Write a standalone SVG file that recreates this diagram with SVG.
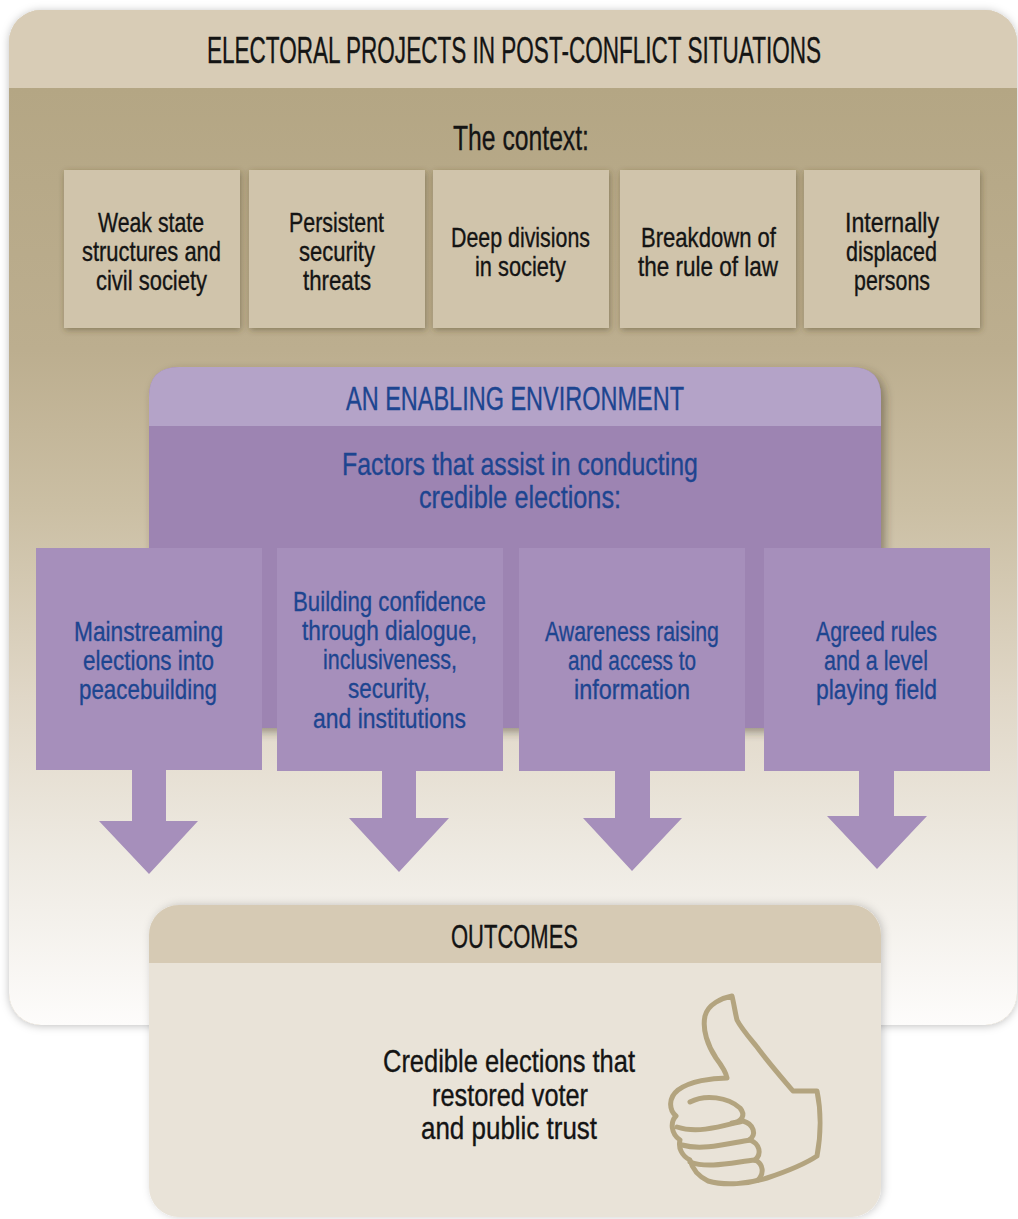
<svg xmlns="http://www.w3.org/2000/svg" width="1018" height="1219" viewBox="0 0 1018 1219">
<defs>
<style>
.t{font-family:"Liberation Sans",Arial,sans-serif;fill:#141414;stroke:#141414;stroke-width:0.35}
.b{font-family:"Liberation Sans",Arial,sans-serif;fill:#1d4590;stroke:#1d4590;stroke-width:0.35}
.ctx{fill:#d0c4ab}
.fac{fill:#a68fbb}
</style>
<linearGradient id="bodyGrad" gradientUnits="userSpaceOnUse" x1="0" y1="88" x2="0" y2="1025">
<stop offset="0" stop-color="#b4a684"/>
<stop offset="0.28" stop-color="#bcae8f"/>
<stop offset="0.45" stop-color="#cbbfa4"/>
<stop offset="0.65" stop-color="#e0d7c7"/>
<stop offset="0.82" stop-color="#eeeae2"/>
<stop offset="1" stop-color="#fdfcfb"/>
</linearGradient>
<clipPath id="panelClip"><rect x="9" y="10" width="1008" height="1015" rx="32" ry="32"/></clipPath>
<clipPath id="envClip"><path d="M149 728 V397 Q149 367 179 367 H851 Q881 367 881 397 V728 Z"/></clipPath>
<clipPath id="outClip"><rect x="149" y="905" width="732" height="312" rx="30" ry="30"/></clipPath>
<filter id="sh" x="-10%" y="-10%" width="120%" height="120%">
<feDropShadow dx="0" dy="1" stdDeviation="4" flood-color="#000" flood-opacity="0.25"/>
</filter>
<filter id="shBox" x="-10%" y="-10%" width="120%" height="120%">
<feDropShadow dx="1" dy="2" stdDeviation="3" flood-color="#4a3f28" flood-opacity="0.45"/>
</filter>
<filter id="shEnv" x="-10%" y="-10%" width="120%" height="125%">
<feDropShadow dx="4" dy="4" stdDeviation="5" flood-color="#3a3020" flood-opacity="0.45"/>
</filter>
<filter id="shOut" x="-10%" y="-10%" width="120%" height="120%">
<feDropShadow dx="2" dy="0" stdDeviation="4" flood-color="#000" flood-opacity="0.2"/>
</filter>
</defs>

<rect width="1018" height="1219" fill="#ffffff"/>

<g id="panel">
<rect x="9" y="10" width="1008" height="1015" rx="32" ry="32" fill="#d8ccb6" filter="url(#sh)"/>
<g clip-path="url(#panelClip)">
<rect x="9" y="10" width="1008" height="78" fill="#d8ccb6"/>
<rect x="9" y="88" width="1008" height="937" fill="url(#bodyGrad)"/>
</g>
<text class="t" transform="translate(207,63) scale(0.64,1)" font-size="36" textLength="959.4" lengthAdjust="spacingAndGlyphs">ELECTORAL PROJECTS IN POST-CONFLICT SITUATIONS</text>
<text class="t" transform="translate(453,150) scale(0.76,1)" font-size="35" textLength="178.9" lengthAdjust="spacingAndGlyphs">The context:</text>
</g>

<g id="ctx1">
<rect class="ctx" x="64" y="170" width="176" height="158" filter="url(#shBox)"/>
<text class="t" transform="translate(98,232) scale(0.76,1)" font-size="27" textLength="139.5" lengthAdjust="spacingAndGlyphs">Weak state</text>
<text class="t" transform="translate(82,261) scale(0.76,1)" font-size="27" textLength="182.9" lengthAdjust="spacingAndGlyphs">structures and</text>
<text class="t" transform="translate(96,290) scale(0.76,1)" font-size="27" textLength="146.1" lengthAdjust="spacingAndGlyphs">civil society</text>
</g>
<g id="ctx2">
<rect class="ctx" x="249" y="170" width="176" height="158" filter="url(#shBox)"/>
<text class="t" transform="translate(289,232) scale(0.76,1)" font-size="27" textLength="125" lengthAdjust="spacingAndGlyphs">Persistent</text>
<text class="t" transform="translate(299,261) scale(0.76,1)" font-size="27" textLength="100" lengthAdjust="spacingAndGlyphs">security</text>
<text class="t" transform="translate(303,290) scale(0.76,1)" font-size="27" textLength="89.5" lengthAdjust="spacingAndGlyphs">threats</text>
</g>
<g id="ctx3">
<rect class="ctx" x="433" y="170" width="176" height="158" filter="url(#shBox)"/>
<text class="t" transform="translate(451,247) scale(0.76,1)" font-size="27" textLength="182.9" lengthAdjust="spacingAndGlyphs">Deep divisions</text>
<text class="t" transform="translate(475,276) scale(0.76,1)" font-size="27" textLength="119.7" lengthAdjust="spacingAndGlyphs">in society</text>
</g>
<g id="ctx4">
<rect class="ctx" x="620" y="170" width="176" height="158" filter="url(#shBox)"/>
<text class="t" transform="translate(641,247) scale(0.76,1)" font-size="27" textLength="177.6" lengthAdjust="spacingAndGlyphs">Breakdown of</text>
<text class="t" transform="translate(638,276) scale(0.76,1)" font-size="27" textLength="184.2" lengthAdjust="spacingAndGlyphs">the rule of law</text>
</g>
<g id="ctx5">
<rect class="ctx" x="804" y="170" width="176" height="158" filter="url(#shBox)"/>
<text class="t" transform="translate(845,232) scale(0.76,1)" font-size="27" textLength="123.7" lengthAdjust="spacingAndGlyphs">Internally</text>
<text class="t" transform="translate(846,261) scale(0.76,1)" font-size="27" textLength="119.7" lengthAdjust="spacingAndGlyphs">displaced</text>
<text class="t" transform="translate(854,290) scale(0.76,1)" font-size="27" textLength="100" lengthAdjust="spacingAndGlyphs">persons</text>
</g>

<g id="environment">
<path d="M149 728 V397 Q149 367 179 367 H851 Q881 367 881 397 V728 Z" fill="#9d84b2" filter="url(#shEnv)"/>
<g clip-path="url(#envClip)">
<rect x="149" y="367" width="732" height="59" fill="#b4a3c8"/>
<rect x="149" y="426" width="732" height="302" fill="#9d84b2"/>
</g>
<text class="b" transform="translate(346,410) scale(0.64,1)" font-size="33" textLength="528.1" lengthAdjust="spacingAndGlyphs">AN ENABLING ENVIRONMENT</text>
<text class="b" transform="translate(342,475) scale(0.76,1)" font-size="31.5" textLength="468.4" lengthAdjust="spacingAndGlyphs">Factors that assist in conducting</text>
<text class="b" transform="translate(419,508) scale(0.76,1)" font-size="31.5" textLength="265.8" lengthAdjust="spacingAndGlyphs">credible elections:</text>
</g>

<g id="connectors">
<polygon class="fac" points="132,769 166,769 166,821 198,821 149,874 99,821 132,821"/>
<polygon class="fac" points="382,770 416,770 416,818 449,818 399,872 349,818 382,818"/>
<polygon class="fac" points="615,770 650,770 650,818 682,818 632,871 583,818 615,818"/>
<polygon class="fac" points="859,770 894,770 894,816 927,816 877,869 827,816 859,816"/>
</g>

<g id="factor1">
<rect class="fac" x="36" y="548" width="226" height="222"/>
<text class="b" transform="translate(74,641) scale(0.76,1)" font-size="28.5" textLength="196.1" lengthAdjust="spacingAndGlyphs">Mainstreaming</text>
<text class="b" transform="translate(83,670) scale(0.76,1)" font-size="28.5" textLength="172.4" lengthAdjust="spacingAndGlyphs">elections into</text>
<text class="b" transform="translate(79,699) scale(0.76,1)" font-size="28.5" textLength="181.6" lengthAdjust="spacingAndGlyphs">peacebuilding</text>
</g>
<g id="factor2">
<rect class="fac" x="277" y="548" width="226" height="223"/>
<text class="b" transform="translate(293,611) scale(0.76,1)" font-size="28.5" textLength="253.9" lengthAdjust="spacingAndGlyphs">Building confidence</text>
<text class="b" transform="translate(302,640) scale(0.76,1)" font-size="28.5" textLength="230.3" lengthAdjust="spacingAndGlyphs">through dialogue,</text>
<text class="b" transform="translate(323,669) scale(0.76,1)" font-size="28.5" textLength="176.3" lengthAdjust="spacingAndGlyphs">inclusiveness,</text>
<text class="b" transform="translate(348,698) scale(0.76,1)" font-size="28.5" textLength="107.9" lengthAdjust="spacingAndGlyphs">security,</text>
<text class="b" transform="translate(313,728) scale(0.76,1)" font-size="28.5" textLength="201.3" lengthAdjust="spacingAndGlyphs">and institutions</text>
</g>
<g id="factor3">
<rect class="fac" x="519" y="548" width="226" height="223"/>
<text class="b" transform="translate(545,641) scale(0.76,1)" font-size="28.5" textLength="228.9" lengthAdjust="spacingAndGlyphs">Awareness raising</text>
<text class="b" transform="translate(568,670) scale(0.76,1)" font-size="28.5" textLength="168.4" lengthAdjust="spacingAndGlyphs">and access to</text>
<text class="b" transform="translate(574,699) scale(0.76,1)" font-size="28.5" textLength="152.6" lengthAdjust="spacingAndGlyphs">information</text>
</g>
<g id="factor4">
<rect class="fac" x="764" y="548" width="226" height="223"/>
<text class="b" transform="translate(816,641) scale(0.76,1)" font-size="28.5" textLength="159.2" lengthAdjust="spacingAndGlyphs">Agreed rules</text>
<text class="b" transform="translate(824,670) scale(0.76,1)" font-size="28.5" textLength="136.8" lengthAdjust="spacingAndGlyphs">and a level</text>
<text class="b" transform="translate(816,699) scale(0.76,1)" font-size="28.5" textLength="159.2" lengthAdjust="spacingAndGlyphs">playing field</text>
</g>

<g id="outcomes">
<rect x="149" y="905" width="732" height="312" rx="30" ry="30" fill="#e9e3d8" filter="url(#shOut)"/>
<g clip-path="url(#outClip)">
<rect x="149" y="905" width="732" height="58" fill="#d6cab4"/>
</g>
<text class="t" transform="translate(451,948) scale(0.64,1)" font-size="33" textLength="198.4" lengthAdjust="spacingAndGlyphs">OUTCOMES</text>
<text class="t" transform="translate(383,1072) scale(0.76,1)" font-size="32" textLength="331.6" lengthAdjust="spacingAndGlyphs">Credible elections that</text>
<text class="t" transform="translate(432,1106) scale(0.76,1)" font-size="32" textLength="205.3" lengthAdjust="spacingAndGlyphs">restored voter</text>
<text class="t" transform="translate(421,1139) scale(0.76,1)" font-size="32" textLength="231.6" lengthAdjust="spacingAndGlyphs">and public trust</text>
<g id="thumb" fill="none" stroke="#b3a47f" stroke-width="5" stroke-linejoin="round" stroke-linecap="round">
<path d="M732 996 C722 998 708 1004 705 1016 C702 1030 708 1046 716 1058 C722 1066 726 1072 727 1078 C712 1078 690 1081 678 1090 C668 1098 669 1110 676 1116 C670 1122 671 1134 680 1140 C678 1148 682 1156 690 1160 C692 1168 698 1176 708 1181 C725 1186 748 1184 767 1178 C785 1172 805 1164 817 1156 C821 1135 821 1110 817 1091 L793 1091 C782 1078 768 1062 757 1047 C748 1036 741 1028 737 1020 C735 1012 734 1004 732 996 Z"/>
<path d="M690 1102 C705 1094 728 1097 740 1108 C746 1115 742 1122 732 1123"/>
<path d="M677 1127 C698 1134 722 1126 743 1121 C754 1124 757 1135 749 1140"/>
<path d="M682 1145 C703 1151 730 1143 750 1140 C760 1144 762 1154 755 1160"/>
<path d="M690 1162 C708 1169 735 1162 755 1160 C764 1164 764 1174 758 1180"/>
</g>
</g>
</svg>
